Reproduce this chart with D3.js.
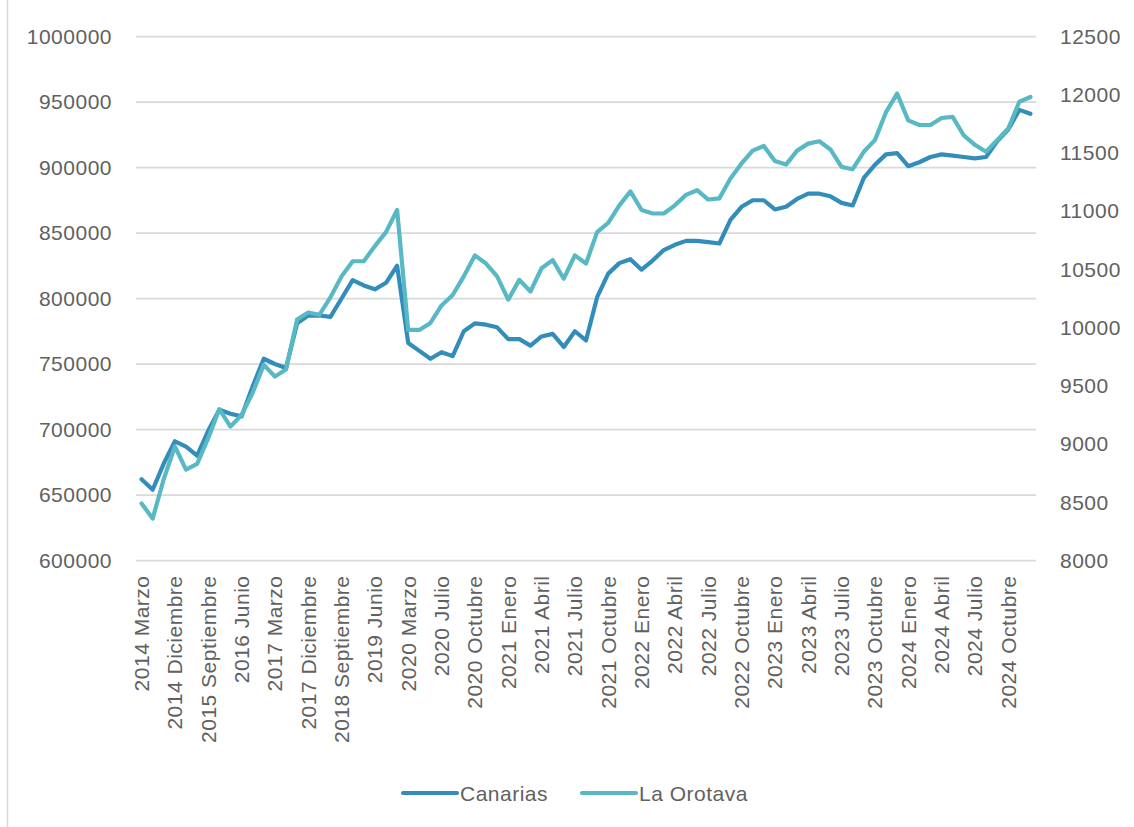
<!DOCTYPE html>
<html>
<head>
<meta charset="utf-8">
<script src="https://cdn.jsdelivr.net/npm/d3@7"></script>
<style>
  html, body { margin: 0; padding: 0; background: #fff; }
  svg { display: block; font-family: "Liberation Sans", Arial, sans-serif; }
</style>
</head>
<body>
<svg id="chart" width="1134" height="827"></svg>
<script>
// Periods: quarterly until March 2020, monthly afterwards
const categories = [
  "2014 Marzo","2014 Junio","2014 Septiembre","2014 Diciembre",
  "2015 Marzo","2015 Junio","2015 Septiembre","2015 Diciembre",
  "2016 Marzo","2016 Junio","2016 Septiembre","2016 Diciembre",
  "2017 Marzo","2017 Junio","2017 Septiembre","2017 Diciembre",
  "2018 Marzo","2018 Junio","2018 Septiembre","2018 Diciembre",
  "2019 Marzo","2019 Junio","2019 Septiembre","2019 Diciembre",
  "2020 Marzo","2020 Mayo","2020 Junio","2020 Julio","2020 Agosto","2020 Septiembre",
  "2020 Octubre","2020 Noviembre","2020 Diciembre",
  "2021 Enero","2021 Febrero","2021 Marzo","2021 Abril","2021 Mayo","2021 Junio",
  "2021 Julio","2021 Agosto","2021 Septiembre","2021 Octubre","2021 Noviembre","2021 Diciembre",
  "2022 Enero","2022 Febrero","2022 Marzo","2022 Abril","2022 Mayo","2022 Junio",
  "2022 Julio","2022 Agosto","2022 Septiembre","2022 Octubre","2022 Noviembre","2022 Diciembre",
  "2023 Enero","2023 Febrero","2023 Marzo","2023 Abril","2023 Mayo","2023 Junio",
  "2023 Julio","2023 Agosto","2023 Septiembre","2023 Octubre","2023 Noviembre","2023 Diciembre",
  "2024 Enero","2024 Febrero","2024 Marzo","2024 Abril","2024 Mayo","2024 Junio",
  "2024 Julio","2024 Agosto","2024 Septiembre","2024 Octubre","2024 Noviembre","2024 Diciembre"
];

// Canarias (left axis)
const canarias = [
  662000, 654000, 674000, 691000, 687000, 680000, 699000, 715000, 712000, 710000,
  733000, 754000, 750000, 747000, 781000, 787000, 787000, 786000, 800000, 814000,
  810000, 807000, 812000, 825000, 766000, 760000, 754000, 759000, 756000, 775000,
  781000, 780000, 778000, 769000, 769000, 764000, 771000, 773000, 763000, 775000,
  768000, 801000, 819000, 827000, 830000, 822000, 829000, 837000, 841000, 844000,
  844000, 843000, 842000, 860000, 870000, 875000, 875000, 868000, 870000, 876000,
  880000, 880000, 878000, 873000, 871000, 892000, 902000, 910000, 911000, 901000,
  904000, 908000, 910000, 909000, 908000, 907000, 908000, 920000, 929000, 944000,
  941000
];

// La Orotava (right axis)
const laOrotava = [
  8490, 8360, 8700, 8980, 8780, 8830, 9050, 9300, 9150, 9250,
  9440, 9680, 9580, 9640, 10070, 10130, 10110, 10260, 10440, 10570,
  10570, 10700, 10820, 11010, 9980, 9980, 10040, 10190, 10280, 10440,
  10620, 10550, 10440, 10240, 10410, 10310, 10510, 10580, 10420, 10620,
  10550, 10820, 10900, 11050, 11170, 11010, 10980, 10980, 11050, 11140,
  11180, 11100, 11110, 11280, 11410, 11520, 11560, 11430, 11400, 11520,
  11580, 11600, 11530, 11380, 11360, 11510, 11610, 11850, 12010, 11780,
  11740, 11740, 11800, 11810, 11650, 11570, 11510, 11610, 11710, 11940,
  11980
];

const leftTicks = [600000, 650000, 700000, 750000, 800000, 850000, 900000, 950000, 1000000];
const rightTicks = [8000, 8500, 9000, 9500, 10000, 10500, 11000, 11500, 12000, 12500];
const seriesNames = ["Canarias", "La Orotava"];
const colors = ["#338dba", "#58b8c4"];

const svg = d3.select("#chart");
const W = 1134, H = 827;
const plot = { left: 136, right: 1036, top: 36.5, bottom: 560.5 };
const textColor = "#616161";
const fontSize = 21;

svg.append("rect").attr("width", W).attr("height", H).attr("fill", "#fff");
// chart frame edge
svg.append("line")
  .attr("x1", 7.5).attr("x2", 7.5).attr("y1", 0).attr("y2", H)
  .attr("stroke", "#d9d9d9").attr("stroke-width", 1.5);

const x = d3.scaleBand().domain(categories).range([plot.left, plot.right]);
const cx = d => x(d) + x.bandwidth() / 2;
const yL = d3.scaleLinear().domain([600000, 1000000]).range([plot.bottom, plot.top]);
const yR = d3.scaleLinear().domain([8000, 12500]).range([plot.bottom, plot.top]);

// horizontal gridlines
svg.append("g").selectAll("line").data(leftTicks).join("line")
  .attr("x1", plot.left).attr("x2", plot.right)
  .attr("y1", d => yL(d)).attr("y2", d => yL(d))
  .attr("stroke", "#d9d9d9").attr("stroke-width", 1.75);

function styleAxis(g) {
  g.select(".domain").remove();
  g.selectAll("text")
    .attr("fill", textColor)
    .style("font-size", fontSize + "px")
    .style("letter-spacing", "0.5px")
    .style("font-family", '"Liberation Sans", Arial, sans-serif');
}

// left axis
svg.append("g")
  .attr("transform", `translate(${plot.left},0)`)
  .call(d3.axisLeft(yL).tickValues(leftTicks).tickSize(0).tickPadding(24).tickFormat(d3.format("d")))
  .call(styleAxis);

// right axis
svg.append("g")
  .attr("transform", `translate(${plot.right},0)`)
  .call(d3.axisRight(yR).tickValues(rightTicks).tickSize(0).tickPadding(24).tickFormat(d3.format("d")))
  .call(styleAxis);

// bottom axis, every third period labelled
const shown = categories.filter((d, i) => i % 3 === 0);
const xAxisG = svg.append("g")
  .attr("transform", `translate(0,${plot.bottom})`)
  .call(d3.axisBottom(x).tickValues(shown).tickSize(0))
  .call(styleAxis);
xAxisG.selectAll("text")
  .attr("transform", "rotate(-90)")
  .attr("text-anchor", "end")
  .attr("x", -15)
  .attr("y", 0)
  .attr("dy", "0.36em");

// lines
const lineL = d3.line().x((d, i) => cx(categories[i])).y(d => yL(d));
const lineR = d3.line().x((d, i) => cx(categories[i])).y(d => yR(d));

svg.append("path").datum(canarias)
  .attr("d", lineL)
  .attr("fill", "none").attr("stroke", colors[0])
  .attr("stroke-width", 4.2).attr("stroke-linejoin", "round").attr("stroke-linecap", "round");

svg.append("path").datum(laOrotava)
  .attr("d", lineR)
  .attr("fill", "none").attr("stroke", colors[1])
  .attr("stroke-width", 4.2).attr("stroke-linejoin", "round").attr("stroke-linecap", "round");

// legend
const legendItems = [
  { name: seriesNames[0], color: colors[0], x: 403 },
  { name: seriesNames[1], color: colors[1], x: 582 }
];
const legend = svg.append("g").attr("transform", "translate(0,793)");
const li = legend.selectAll("g").data(legendItems).join("g")
  .attr("transform", d => `translate(${d.x},0)`);
li.append("line")
  .attr("x1", 0).attr("x2", 54).attr("y1", 0).attr("y2", 0)
  .attr("stroke", d => d.color).attr("stroke-width", 4.2).attr("stroke-linecap", "round");
li.append("text")
  .attr("x", 57).attr("y", 0).attr("dy", "0.36em")
  .attr("fill", textColor)
  .style("font-size", fontSize + "px")
  .style("letter-spacing", "0.5px")
  .text(d => d.name);
</script>
</body>
</html>
